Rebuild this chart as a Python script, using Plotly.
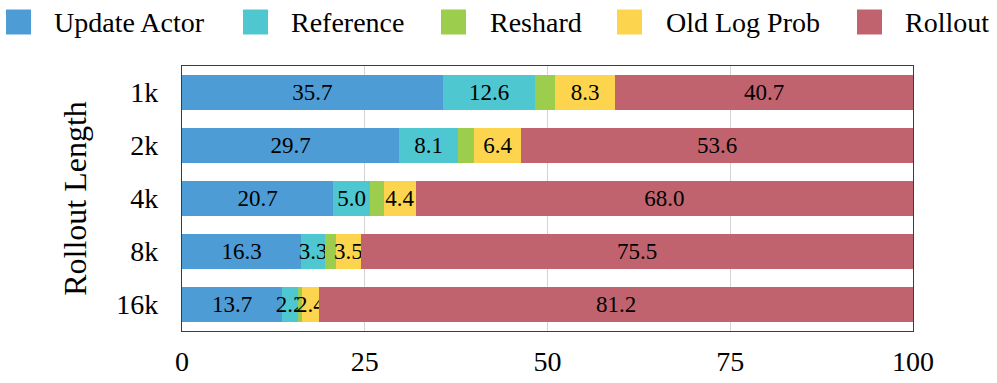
import plotly.graph_objects as go

# -- Data ---------------------------------------------------------------------
lengths      = ["1k", "2k", "4k", "8k", "16k"]
update_actor = [35.7, 29.7, 20.7, 16.3, 13.7]
reference    = [12.6, 8.1, 5.0, 3.3, 2.2]
reshard      = [2.7, 2.2, 1.9, 1.4, 0.5]
old_log_prob = [8.3, 6.4, 4.4, 3.5, 2.4]
rollout      = [40.7, 53.6, 68.0, 75.5, 81.2]

series = [
    ("Update Actor", update_actor, "#4E9CD6", True),
    ("Reference",    reference,    "#4EC7D0", True),
    ("Reshard",      reshard,      "#9DCD4C", False),
    ("Old Log Prob", old_log_prob, "#FDD44D", True),
    ("Rollout",      rollout,      "#C0636F", True),
]

# -- Layout helpers -----------------------------------------------------------
W, H = 997, 383
L, R, T, B = 182, 84, 66, 52
FONT = "Liberation Serif"


def px_x(px):
    return (px - L) / (W - L - R)


def px_y(py):
    return (H - B - py) / (H - T - B)


fig = go.Figure()
for name, vals, color, labelled in series:
    fig.add_trace(go.Bar(
        y=lengths, x=vals, name=name, orientation="h",
        marker=dict(color=color, line=dict(width=0)),
        text=[f"{v:.1f}" for v in vals] if labelled else None,
        textposition="inside" if labelled else "none",
        insidetextanchor="middle", textangle=0, constraintext="none",
        textfont=dict(family=FONT, size=23, color="black"),
        showlegend=False,
    ))

# legend drawn by hand so the swatches can be large
legend_pos = [(6, 52), (243, 289), (441, 488), (617, 664), (857, 903)]
shapes, annotations = [], []
for (name, _, color, _), (sx, tx) in zip(series, legend_pos):
    shapes.append(dict(type="rect", xref="paper", yref="paper",
                       x0=px_x(sx), x1=px_x(sx + 25),
                       y0=px_y(9.5), y1=px_y(34.5),
                       fillcolor=color, line=dict(width=0)))
    annotations.append(dict(text=name, xref="paper", yref="paper",
                            x=px_x(tx), y=px_y(22), xanchor="left",
                            yanchor="middle", showarrow=False,
                            font=dict(family=FONT, size=28, color="black")))

fig.update_layout(
    barmode="stack", bargap=0.33,
    width=W, height=H,
    margin=dict(l=L, r=R, t=T, b=B),
    paper_bgcolor="white", plot_bgcolor="white",
    font=dict(family=FONT, color="black"),
    shapes=shapes, annotations=annotations,
    xaxis=dict(range=[0, 100], tickvals=[0, 25, 50, 75, 100],
               showgrid=True, gridcolor="#d4d4d4", gridwidth=1,
               zeroline=False, showline=True, linecolor="#3c3c3c",
               linewidth=1.3, mirror=True, ticks="", automargin=False,
               tickfont=dict(size=28), ticklabelstandoff=5),
    yaxis=dict(autorange="reversed", showgrid=False, zeroline=False,
               showline=True, linecolor="#3c3c3c", linewidth=1.3,
               mirror=True, ticks="", tickfont=dict(size=28),
               ticklabelstandoff=17, automargin=False,
               title=dict(text="Rollout Length", font=dict(size=32),
                          standoff=20)),
)

fig.write_html("out.html", config={"displayModeBar": False},
               post_script="document.body.style.margin='0';")
